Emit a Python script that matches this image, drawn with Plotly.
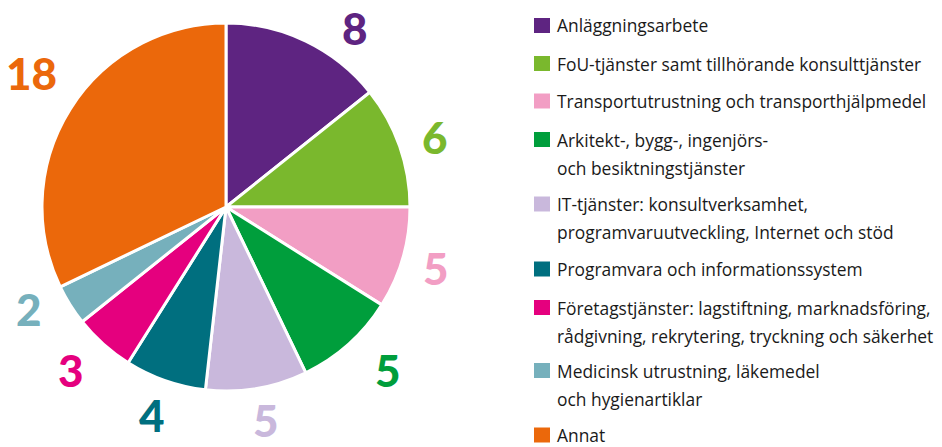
import math
import plotly.graph_objects as go

# Antal per kategori
categories = [
    "Anläggningsarbete",
    "FoU-tjänster samt tillhörande konsulttjänster",
    "Transportutrustning och transporthjälpmedel",
    "Arkitekt-, bygg-, ingenjörs-<br>och besiktningstjänster",
    "IT-tjänster: konsultverksamhet,<br>programvaruutveckling, Internet och stöd",
    "Programvara och informationssystem",
    "Företagstjänster: lagstiftning, marknadsföring,<br>rådgivning, rekrytering, tryckning och säkerhet",
    "Medicinsk utrustning, läkemedel<br>och hygienartiklar",
    "Annat",
]
values = [8, 6, 5, 5, 5, 4, 3, 2, 18]
colors = [
    "#5E2481", "#7AB82D", "#F29EC4", "#009E3C", "#C9B8DC",
    "#006F7F", "#E5007E", "#76B0BC", "#EB680B",
]

W, H = 942, 447
cx, cy, r = 226, 207, 184  # pie centre and radius in px

# value-label placement: distance from centre and small angular nudges (deg)
label_dist = [220.5, 220, 219, 230, 216.5, 221, 225, 222, 236]
label_nudge = [10.1, 0.8, 0, -3, -1.0, 0.3, 1.8, 4.7, 2.5]

fig = go.Figure()
fig.add_trace(go.Pie(
    labels=categories,
    values=values,
    sort=False,
    direction="clockwise",
    rotation=0,
    marker=dict(colors=colors, line=dict(color="white", width=3)),
    textinfo="none",
    showlegend=False,
    hoverinfo="label+value",
    domain=dict(x=[(cx - r) / W, (cx + r) / W],
                y=[(H - cy - r) / H, (H - cy + r) / H]),
))

annotations = []
shapes = []

# value labels at each slice's mid-angle (clockwise from 12 o'clock)
total = sum(values)
cum = 0
for v, col, d, nudge in zip(values, colors, label_dist, label_nudge):
    mid = (cum + v / 2) / total * 360 + nudge
    cum += v
    px = cx + d * math.sin(math.radians(mid))
    py = cy - d * math.cos(math.radians(mid))
    annotations.append(dict(text=str(v), xref="paper", yref="paper",
                            x=px / W, y=(H - py) / H,
                            xanchor="center", yanchor="middle", showarrow=False,
                            borderpad=0,
                            font=dict(family="Lato", size=44, color=col, weight=900)))

# Legend drawn as squares and text lines
legend_rows = [
    (25.5, ["Anläggningsarbete"]),
    (63.5, ["FoU-tjänster samt tillhörande konsulttjänster"]),
    (101, ["Transportutrustning och transporthjälpmedel"]),
    (139.5, ["Arkitekt-, bygg-, ingenjörs-", "och besiktningstjänster"]),
    (204, ["IT-tjänster: konsultverksamhet,", "programvaruutveckling, Internet och stöd"]),
    (269, ["Programvara och informationssystem"]),
    (307.5, ["Företagstjänster: lagstiftning, marknadsföring,", "rådgivning, rekrytering, tryckning och säkerhet"]),
    (370.5, ["Medicinsk utrustning, läkemedel", "och hygienartiklar"]),
    (435, ["Annat"]),
]
for (yc, lines), col in zip(legend_rows, colors):
    shapes.append(dict(type="rect", xref="paper", yref="paper",
                       x0=534 / W, x1=550 / W,
                       y0=(H - yc - 7.5) / H, y1=(H - yc + 7.5) / H,
                       fillcolor=col, line=dict(width=0)))
    for i, line in enumerate(lines):
        ty = yc + i * 28
        annotations.append(dict(text=line, xref="paper", yref="paper",
                                x=556 / W, y=(H - ty) / H,
                                xanchor="left", yanchor="middle",
                                showarrow=False, borderpad=0,
                                font=dict(family="Open Sans", size=17.4, color="#1a1a1a")))

fig.update_layout(
    width=W, height=H,
    margin=dict(l=0, r=0, t=0, b=0),
    paper_bgcolor="white",
    plot_bgcolor="white",
    shapes=shapes,
    annotations=annotations,
)

fig.write_html("out.html")
